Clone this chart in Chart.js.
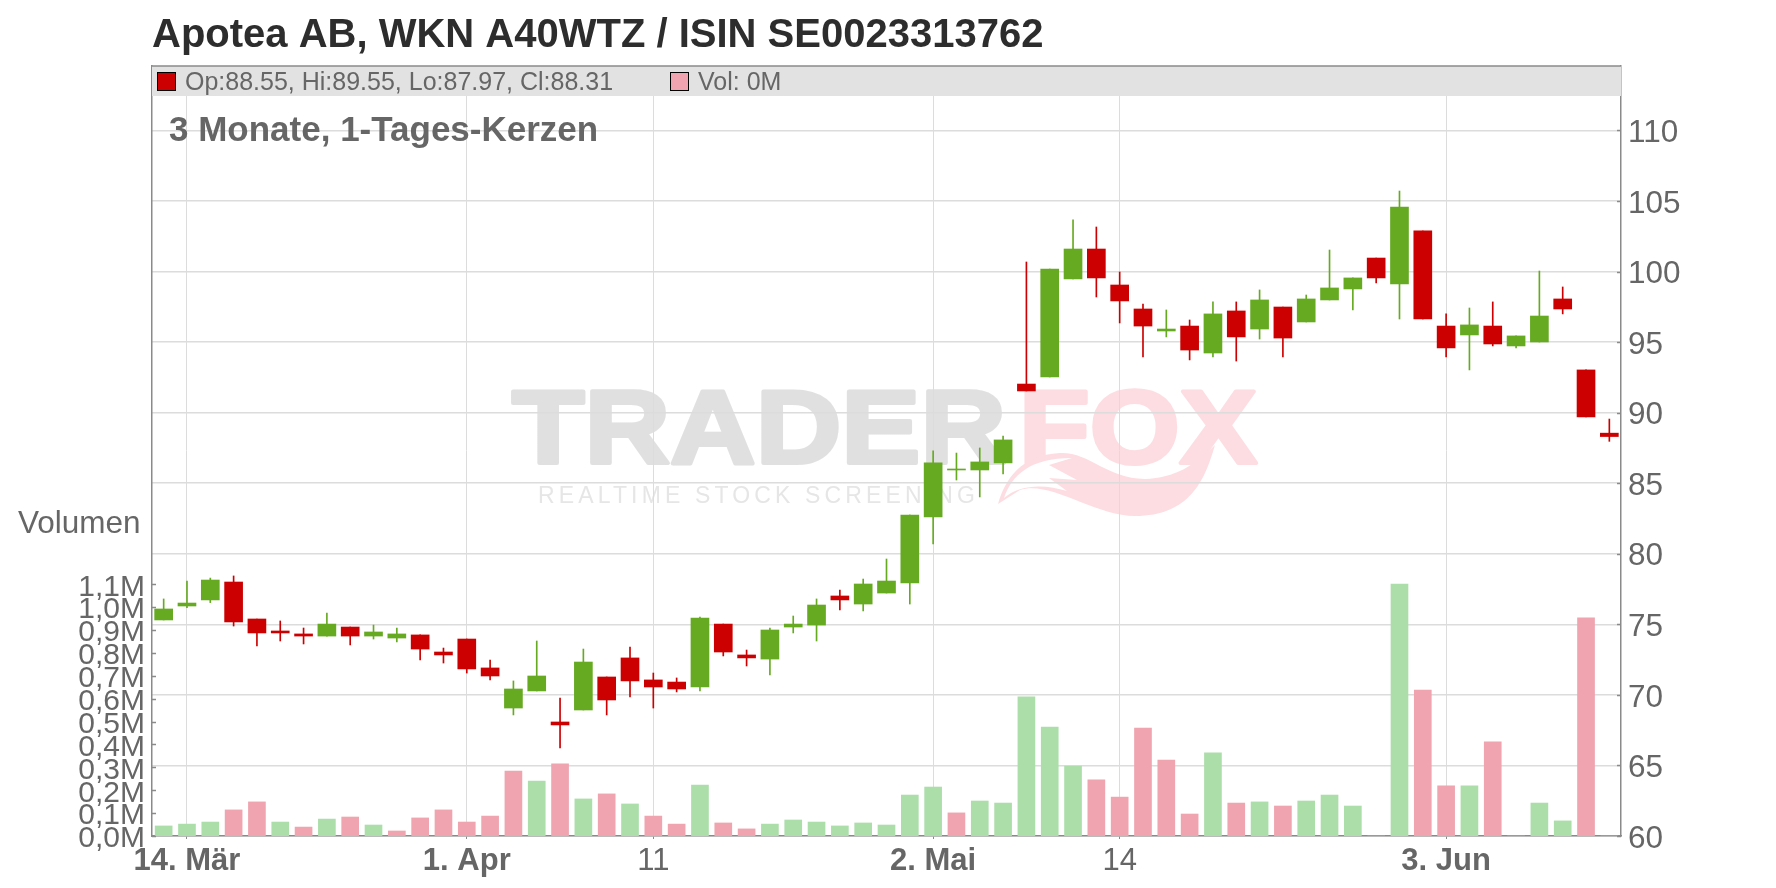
<!DOCTYPE html>
<html>
<head>
<meta charset="utf-8">
<title>Apotea AB</title>
<script src="https://cdn.jsdelivr.net/npm/chart.js@4"></script>
<style>
  html, body { margin: 0; padding: 0; background: #fff; }
  canvas { display: block; }
</style>
</head>
<body>
<canvas id="myChart" width="1776" height="888"></canvas>
<script>
var _open = [75.31,76.30,76.73,78.00,75.38,74.53,74.32,74.17,74.81,74.17,74.03,74.25,73.04,73.96,71.91,69.07,70.28,68.08,68.93,71.27,72.62,71.06,70.91,70.56,75.02,72.83,72.54,74.81,74.95,77.01,76.44,77.22,77.93,82.61,85.94,85.94,86.44,92.03,92.53,99.48,101.60,99.05,97.35,95.79,96.14,94.23,97.21,95.93,97.49,96.43,97.99,98.77,100.96,99.12,102.88,96.14,95.51,96.14,94.73,95.01,98.06,93.03,88.55];
var _high = [76.80,78.07,78.28,78.43,75.38,75.24,74.74,75.80,74.81,74.95,74.74,74.25,73.32,73.96,72.47,70.99,73.82,69.78,73.25,71.27,73.39,71.55,71.20,75.52,75.02,73.18,74.74,75.59,76.80,77.43,78.21,79.63,82.75,87.29,87.14,87.50,88.35,100.68,100.18,103.66,103.16,99.97,97.70,97.28,96.57,97.85,97.85,98.70,97.49,98.34,101.53,99.55,100.96,105.71,102.88,97.00,97.42,97.85,95.44,100.04,98.91,93.03,89.55];
var _low = [75.31,76.18,76.54,74.88,73.47,73.82,73.61,74.17,73.54,73.96,73.75,72.47,72.26,71.55,71.06,68.58,70.28,66.24,68.93,68.58,69.85,69.07,70.21,70.28,72.76,72.05,71.41,74.39,73.82,76.02,75.95,77.22,76.44,80.70,85.23,84.03,85.66,91.54,92.53,99.48,98.20,96.36,93.95,95.37,93.74,93.95,93.66,95.22,93.95,96.43,97.99,97.28,99.19,96.64,96.64,93.95,93.03,94.73,94.59,95.01,97.00,89.70,87.97];
var _close = [76.09,76.51,78.14,75.17,74.39,74.39,74.17,75.02,74.17,74.46,74.32,73.25,72.83,71.84,71.34,70.42,71.34,67.87,72.33,69.64,70.99,70.56,70.42,75.45,73.04,72.62,74.60,75.02,76.37,76.73,77.86,78.07,82.75,86.44,86.01,86.51,88.07,91.54,100.18,101.60,99.55,97.92,96.14,95.93,94.44,97.00,95.37,97.99,95.29,98.06,98.84,99.55,99.55,104.58,96.64,94.59,96.22,94.87,95.44,96.85,97.35,89.70,88.31];
//volume in millions
var _volume = [0.044,0.052,0.061,0.114,0.149,0.061,0.039,0.074,0.083,0.048,0.022,0.079,0.114,0.061,0.087,0.284,0.240,0.315,0.162,0.184,0.140,0.087,0.052,0.223,0.057,0.031,0.052,0.070,0.061,0.044,0.057,0.048,0.179,0.214,0.101,0.153,0.144,0.608,0.476,0.306,0.245,0.170,0.472,0.332,0.096,0.363,0.144,0.149,0.131,0.153,0.179,0.131,0,1.101,0.638,0.219,0.219,0.411,0,0.144,0.066,0.953,0];
//1 = volume bar is green, 0 = volume bar is red
var _volumeUp = [1,1,1,0,0,1,0,1,0,1,0,0,0,0,0,0,1,0,1,0,1,0,0,1,0,0,1,1,1,1,1,1,1,1,0,1,1,1,1,1,0,0,0,0,0,1,0,1,0,1,1,1,0,1,0,0,1,0,0,1,1,0,0];
var _tickIndex = [1,13,21,33,41,55];
var _tickLabels = ["14. Mär","1. Apr","11","2. Mai","14","3. Jun"];
var _tickBold = [true,true,false,true,false,true];
var _volumeTicks = [0,0.1,0.2,0.3,0.4,0.5,0.6,0.7,0.8,0.9,1.0,1.1];
var _volumeLabels = ["0,0M","0,1M","0,2M","0,3M","0,4M","0,5M","0,6M","0,7M","0,8M","0,9M","1,0M","1,1M"];

var GREEN = "#66aa22", RED = "#cc0000", LIGHT_GREEN = "#acdeaa", LIGHT_RED = "#efa4af";
var GREY_TEXT = "#666666", AXIS = "#8a8a8a", GRID = "#dcdcdc";
var FONT = '"Liberation Sans", Arial, sans-serif';

var bodies = [], wicks = [], candleColors = [], volumeColors = [], days = [];
for (var i = 0; i < _open.length; i++) {
    bodies.push([_open[i], _close[i]]);
    wicks.push([_low[i], _high[i]]);
    candleColors.push(_close[i] >= _open[i] ? GREEN : RED);
    volumeColors.push(_volumeUp[i] ? LIGHT_GREEN : LIGHT_RED);
    days.push(String(i));
}

//stretch a text horizontally so it fills the given width
function stretchedText(ctx, text, x, y, width) {
    ctx.save();
    ctx.translate(x, y);
    ctx.scale(width / ctx.measureText(text).width, 1);
    ctx.lineWidth = 4;
    ctx.lineJoin = "round";
    ctx.strokeStyle = ctx.fillStyle;
    ctx.strokeText(text, 0, 0);
    ctx.fillText(text, 0, 0);
    ctx.restore();
}

//the logo behind the chart
var watermark = {
    id: "watermark",
    beforeDraw: function (chart) {
        var ctx = chart.ctx;
        ctx.save();
        ctx.textAlign = "left";
        ctx.textBaseline = "alphabetic";
        var grad = ctx.createLinearGradient(0, 387, 0, 465);
        grad.addColorStop(0, "#e0e0e0");
        grad.addColorStop(1, "#f0f0f0");
        ctx.fillStyle = grad;
        ctx.font = "bold 104px " + FONT;
        stretchedText(ctx, "TRADER", 512, 463, 494);
        ctx.fillStyle = "#fddde1";
        stretchedText(ctx, "FOX", 1019, 463, 238);
        //fox tail
        ctx.beginPath();
        ctx.moveTo(998, 504);
        ctx.bezierCurveTo(1005, 480, 1020, 455, 1060, 453);
        ctx.bezierCurveTo(1090, 452, 1105, 478, 1145, 479);
        ctx.bezierCurveTo(1175, 478, 1195, 465, 1215, 445);
        ctx.bezierCurveTo(1205, 480, 1190, 516, 1135, 516);
        ctx.bezierCurveTo(1095, 516, 1050, 480, 1020, 490);
        ctx.closePath();
        ctx.fill();
        ctx.fillStyle = "#ffffff";
        ctx.beginPath();
        ctx.moveTo(1004, 498);
        ctx.bezierCurveTo(1012, 475, 1030, 458, 1072, 458);
        ctx.lineTo(1049, 465);
        ctx.lineTo(1077, 480);
        ctx.lineTo(1049, 478);
        ctx.lineTo(1067, 491);
        ctx.bezierCurveTo(1045, 484, 1020, 484, 1004, 498);
        ctx.closePath();
        ctx.fill();
        //small line under the logo
        ctx.fillStyle = "#e6e6e6";
        ctx.font = "23px " + FONT;
        var text = "REALTIME STOCK SCREENING";
        ctx.letterSpacing = ((441 - ctx.measureText(text).width) / text.length) + "px";
        ctx.fillText(text, 538, 503);
        ctx.restore();
    }
};

//the grey band with the last values
var headerBand = {
    id: "headerBand",
    beforeDatasetsDraw: function (chart) {
        var ctx = chart.ctx, area = chart.chartArea;
        ctx.save();
        ctx.fillStyle = "#e2e2e2";
        ctx.fillRect(area.left, area.top, area.right - area.left, 30);
        ctx.strokeStyle = AXIS;
        ctx.lineWidth = 1.5;
        ctx.beginPath();
        ctx.moveTo(area.left, area.top);
        ctx.lineTo(area.right, area.top);
        ctx.stroke();
        ctx.strokeStyle = "#000000";
        ctx.lineWidth = 1;
        ctx.fillStyle = RED;
        ctx.fillRect(157.5, 72.5, 18, 18);
        ctx.strokeRect(157.5, 72.5, 18, 18);
        ctx.fillStyle = LIGHT_RED;
        ctx.fillRect(670.5, 72.5, 18, 18);
        ctx.strokeRect(670.5, 72.5, 18, 18);
        ctx.fillStyle = GREY_TEXT;
        ctx.textAlign = "left";
        ctx.textBaseline = "alphabetic";
        ctx.font = "25px " + FONT;
        ctx.fillText("Op:" + _open[62] + ", Hi:" + _high[62] + ", Lo:" + _low[62] + ", Cl:" + _close[62], 185, 90);
        ctx.fillText("Vol: 0M", 698, 90);
        ctx.font = "bold 35px " + FONT;
        ctx.fillText("3 Monate, 1-Tages-Kerzen", 169, 141);
        ctx.restore();
    }
};

//title, axis caption and the small tick marks that point into the plot
var overlayText = {
    id: "overlayText",
    afterDraw: function (chart) {
        var ctx = chart.ctx, area = chart.chartArea;
        ctx.save();
        ctx.textAlign = "left";
        ctx.textBaseline = "alphabetic";
        ctx.fillStyle = "#2d2d2d";
        ctx.font = "bold 40px " + FONT;
        ctx.fillText("Apotea AB, WKN A40WTZ / ISIN SE0023313762", 152, 47);
        ctx.fillStyle = GREY_TEXT;
        ctx.font = "31.5px " + FONT;
        ctx.fillText("Volumen", 18, 533);
        ctx.strokeStyle = AXIS;
        ctx.lineWidth = 1.5;
        ctx.beginPath();
        chart.scales.yVolume.ticks.forEach(function (t) {
            var y = Math.round(chart.scales.yVolume.getPixelForValue(t.value)) + 0.5;
            ctx.moveTo(area.left, y);
            ctx.lineTo(area.left + 4, y);
        });
        chart.scales.yPrice.ticks.forEach(function (t) {
            var y = Math.round(chart.scales.yPrice.getPixelForValue(t.value)) + 0.5;
            ctx.moveTo(area.right, y);
            ctx.lineTo(area.right - 4, y);
        });
        ctx.stroke();
        ctx.restore();
    }
};

var ctx = document.getElementById("myChart").getContext("2d");
var myChart = new Chart(ctx, {
    type: "bar",
    data: {
        labels: days,
        datasets: [{
            data: wicks,
            yAxisID: "yPrice",
            backgroundColor: candleColors,
            barThickness: 1,
            grouped: false,
            order: 2
        }, {
            data: bodies,
            yAxisID: "yPrice",
            backgroundColor: candleColors,
            barThickness: 18,
            grouped: false,
            order: 1
        }, {
            data: _volume,
            yAxisID: "yVolume",
            backgroundColor: volumeColors,
            barThickness: 17,
            grouped: false,
            order: 3
        }]
    },
    options: {
        responsive: false,
        animation: false,
        layout: { padding: { top: 66, left: 0, right: 0, bottom: 0 } },
        plugins: { legend: { display: false }, tooltip: { enabled: false } },
        scales: {
            x: {
                grid: { color: GRID, lineWidth: 1, tickLength: 3, tickColor: AXIS, offset: false },
                border: { color: AXIS, width: 1.5 },
                ticks: {
                    autoSkip: false,
                    maxRotation: 0,
                    padding: 4,
                    color: GREY_TEXT,
                    font: function (c) {
                        return { family: FONT, size: 31, weight: _tickBold[c.index] ? "bold" : "normal" };
                    },
                    callback: function (value, index) { return _tickLabels[index]; }
                },
                afterBuildTicks: function (scale) {
                    scale.ticks = _tickIndex.map(function (v) { return { value: v }; });
                },
                afterFit: function (scale) { scale.height = 52; }
            },
            yPrice: {
                position: "right",
                min: 60,
                max: 114.57,
                grid: { color: GRID, lineWidth: 1.5, drawTicks: false },
                border: { color: AXIS, width: 1.5 },
                ticks: {
                    stepSize: 5,
                    includeBounds: false,
                    padding: 7,
                    labelOffset: 3,
                    color: GREY_TEXT,
                    font: { family: FONT, size: 31.5 },
                    callback: function (value) { return String(value); }
                },
                afterFit: function (scale) { scale.width = 155; }
            },
            yVolume: {
                position: "left",
                min: 0,
                max: 3.365,
                grid: { display: false, drawTicks: false },
                border: { color: AXIS, width: 1.5 },
                ticks: {
                    padding: 7,
                    labelOffset: 3,
                    autoSkip: false,
                    color: GREY_TEXT,
                    font: { family: FONT, size: 30 },
                    callback: function (value, index) { return _volumeLabels[index]; }
                },
                afterBuildTicks: function (scale) {
                    scale.ticks = _volumeTicks.map(function (v) { return { value: v }; });
                },
                afterFit: function (scale) { scale.width = 152; }
            }
        }
    },
    plugins: [watermark, headerBand, overlayText]
});
</script>
</body>
</html>
